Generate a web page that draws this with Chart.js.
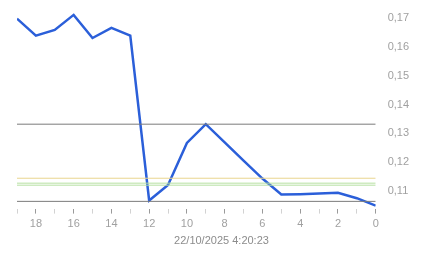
<!DOCTYPE html>
<html>
<head>
<meta charset="utf-8">
<script src="https://cdn.jsdelivr.net/npm/chart.js@4"></script>
<style>
  html, body { margin: 0; padding: 0; background: #fff; }
  #wrap { width: 443px; height: 258px; }
</style>
</head>
<body>
<div id="wrap"><canvas id="chart"></canvas></div>
<script>
// minutes ago (x) and value
const ages = [19, 18, 17, 16, 15, 14, 13, 12, 11, 10, 9, 8, 7, 6, 5, 4, 3, 2, 1, 0];
const values = [0.1697, 0.1638, 0.1658, 0.1710, 0.1630, 0.1665, 0.1638, 0.1068, 0.1122, 0.1267,
                0.1332, 0.1269, 0.1206, 0.1144, 0.1089, 0.1090, 0.1092, 0.1095, 0.1076, 0.1050];
const yTicks = [0.11, 0.12, 0.13, 0.14, 0.15, 0.16, 0.17];
const grayLevels = [0.1332, 0.1065];
const yellowLevels = [0.1145];
const greenLevels = [0.1128, 0.1121];
const timestamp = "22/10/2025 4:20:23";

function levelSet(levels, color) {
  return levels.map(v => ({
    data: [{ x: 19, y: v }, { x: 0, y: v }],
    borderColor: color,
    borderWidth: 1,
    pointRadius: 0
  }));
}

const datasets = [
  ...levelSet(grayLevels, "#7a7a7a"),
  ...levelSet(yellowLevels, "#e9d58f"),
  ...levelSet(greenLevels, "#b6e0a2"),
  {
    data: ages.map((a, i) => ({ x: a, y: values[i] })),
    borderColor: "#2b5fd9",
    borderWidth: 2.5,
    pointRadius: 0,
    tension: 0
  }
];

const labelFont = { family: "Liberation Sans, Arial", size: 11 };

new Chart(document.getElementById("chart"), {
  type: "line",
  data: { datasets: datasets },
  options: {
    responsive: true,
    maintainAspectRatio: false,
    animation: false,
    layout: { padding: { left: 17, right: 17, top: 12 } },
    plugins: {
      legend: { display: false },
      tooltip: { enabled: false },
      title: {
        display: true,
        position: "bottom",
        text: timestamp,
        color: "#8c8c8c",
        font: { family: "Liberation Sans, Arial", size: 11, weight: "normal" },
        padding: { top: 0, bottom: 10.7 }
      }
    },
    scales: {
      x: {
        type: "linear",
        reverse: true,
        min: 0,
        max: 19,
        border: { display: false },
        grid: {
          drawOnChartArea: false,
          tickLength: 5,
          color: ctx => (ctx.tick && ctx.tick.value % 2 === 0) ? "#9a9a9a" : "#d2d2d2"
        },
        ticks: {
          stepSize: 1,
          autoSkip: false,
          maxRotation: 0,
          padding: 4,
          color: "#a0a0a0",
          font: labelFont,
          callback: v => (v % 2 === 0 ? String(v) : "")
        },
        afterFit: s => { s.height = 25.5; }
      },
      y: {
        position: "right",
        min: 0.104,
        max: 0.172,
        border: { display: false },
        grid: { display: false },
        afterBuildTicks: s => { s.ticks = yTicks.map(v => ({ value: v })); },
        ticks: {
          padding: 4,
          color: "#a0a0a0",
          font: labelFont,
          callback: v => v.toFixed(2).replace(".", ",")
        },
        afterFit: s => { s.width = 50.3; }
      }
    }
  }
});
</script>
</body>
</html>
